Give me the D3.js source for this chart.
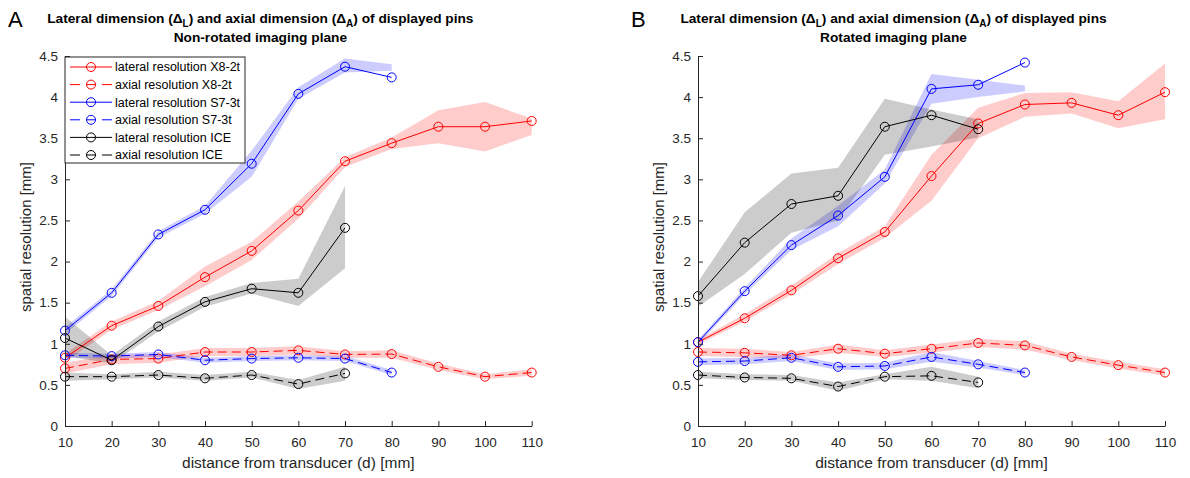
<!DOCTYPE html>
<html>
<head>
<meta charset="utf-8">
<script src="https://cdn.jsdelivr.net/npm/d3@7"></script>
<style>
body { margin:0; background:#fff; }
text { font-family: "Liberation Sans", Arial, sans-serif; }
</style>
</head>
<body>
<script>
// distances (mm)
var dist = [10,20,30,40,50,60,70,80,90,100,110];
var xTicks = [10,20,30,40,50,60,70,80,90,100,110];
var yTicks = [0,0.5,1,1.5,2,2.5,3,3.5,4,4.5];

var legendNames = ["lateral resolution X8-2t","axial resolution X8-2t","lateral resolution S7-3t",
                   "axial resolution S7-3t","lateral resolution ICE","axial resolution ICE"];

// ---- panel A : non-rotated imaging plane ----
var A_latX8    = [0.83,1.22,1.46,1.81,2.13,2.62,3.22,3.44,3.64,3.64,3.71];
var A_latX8_lo = [0.78,1.17,1.41,1.70,2.02,2.52,3.15,3.37,3.44,3.34,3.54];
var A_latX8_hi = [0.88,1.27,1.52,1.94,2.24,2.73,3.27,3.51,3.84,3.94,3.74];
var A_axX8     = [0.70,0.81,0.82,0.90,0.90,0.92,0.87,0.875,0.72,0.60,0.65];
var A_axX8_lo  = [0.64,0.75,0.77,0.85,0.85,0.87,0.83,0.83,0.68,0.57,0.61];
var A_axX8_hi  = [0.77,0.87,0.87,0.95,0.95,0.97,0.91,0.92,0.76,0.63,0.69];
var A_latS7    = [1.16,1.62,2.33,2.63,3.19,4.04,4.37,4.24];
var A_latS7_lo = [1.12,1.58,2.29,2.58,3.03,3.98,4.30,4.32];
var A_latS7_hi = [1.20,1.66,2.37,2.68,3.35,4.12,4.47,4.40];
var A_axS7     = [0.86,0.85,0.87,0.80,0.82,0.83,0.82,0.65];
var A_axS7_lo  = [0.83,0.82,0.84,0.77,0.79,0.80,0.79,0.62];
var A_axS7_hi  = [0.89,0.88,0.90,0.83,0.85,0.86,0.85,0.68];
var A_latICE    = [1.07,0.80,1.21,1.51,1.67,1.62,2.41];
var A_latICE_lo = [0.85,0.76,1.15,1.45,1.61,1.46,1.92];
var A_latICE_hi = [1.33,0.86,1.27,1.57,1.74,1.79,2.92];
var A_axICE    = [0.60,0.60,0.62,0.58,0.62,0.51,0.64];
var A_axICE_lo = [0.55,0.57,0.59,0.55,0.59,0.45,0.55];
var A_axICE_hi = [0.65,0.63,0.66,0.62,0.66,0.56,0.72];

// ---- panel B : rotated imaging plane ----
var B_latX8    = [1.02,1.31,1.65,2.04,2.36,3.04,3.68,3.91,3.93,3.78,4.06];
var B_latX8_lo = [0.99,1.27,1.60,1.97,2.29,2.74,3.50,3.76,3.80,3.62,3.73];
var B_latX8_hi = [1.05,1.36,1.71,2.10,2.43,3.30,3.87,4.05,4.06,3.95,4.41];
var B_axX8     = [0.90,0.89,0.86,0.94,0.88,0.94,1.01,0.98,0.84,0.74,0.65];
var B_axX8_lo  = [0.85,0.84,0.82,0.89,0.84,0.89,0.96,0.93,0.80,0.70,0.61];
var B_axX8_hi  = [0.95,0.94,0.90,0.99,0.92,0.99,1.06,1.03,0.88,0.78,0.69];
var B_latS7    = [1.02,1.64,2.20,2.56,3.03,4.10,4.15,4.42];
var B_latS7_lo = [0.99,1.60,2.14,2.43,2.95,3.92,4.00,4.07];
var B_latS7_hi = [1.05,1.68,2.28,2.68,3.12,4.28,4.21,4.14];
var B_axS7     = [0.78,0.79,0.83,0.72,0.73,0.84,0.75,0.65];
var B_axS7_lo  = [0.74,0.75,0.79,0.68,0.69,0.78,0.71,0.62];
var B_axS7_hi  = [0.82,0.83,0.87,0.76,0.77,0.90,0.79,0.68];
var B_latICE    = [1.58,2.23,2.70,2.80,3.64,3.78,3.61];
var B_latICE_lo = [1.45,1.85,2.35,2.50,3.30,3.40,3.51];
var B_latICE_hi = [1.75,2.60,3.07,3.14,3.98,3.85,3.73];
var B_axICE    = [0.62,0.59,0.58,0.48,0.60,0.61,0.53];
var B_axICE_lo = [0.58,0.56,0.55,0.43,0.57,0.55,0.46];
var B_axICE_hi = [0.66,0.63,0.62,0.53,0.63,0.72,0.60];

var colors = ["#ff0000","#ff0000","#0000ff","#0000ff","#000000","#000000"];
var dashed = [false,true,false,true,false,true];

var svg = d3.select("body").append("svg")
            .attr("width",1190)
            .attr("height",478);

function makeSeries(vals){
	// vals: [[mean,lo,hi], ...] in legend order
	return vals.map(function(v,i){
		return {
			name: legendNames[i],
			color: colors[i],
			dash: dashed[i],
			pts: v[0].map(function(m,j){ return {x: dist[j], y: m, lo: v[1][j], hi: v[2][j]}; })
		};
	});
}

var seriesA = makeSeries([[A_latX8,A_latX8_lo,A_latX8_hi],[A_axX8,A_axX8_lo,A_axX8_hi],
                          [A_latS7,A_latS7_lo,A_latS7_hi],[A_axS7,A_axS7_lo,A_axS7_hi],
                          [A_latICE,A_latICE_lo,A_latICE_hi],[A_axICE,A_axICE_lo,A_axICE_hi]]);
var seriesB = makeSeries([[B_latX8,B_latX8_lo,B_latX8_hi],[B_axX8,B_axX8_lo,B_axX8_hi],
                          [B_latS7,B_latS7_lo,B_latS7_hi],[B_axS7,B_axS7_lo,B_axS7_hi],
                          [B_latICE,B_latICE_lo,B_latICE_hi],[B_axICE,B_axICE_lo,B_axICE_hi]]);

drawPanel(seriesA, {x0:65, x1:531.7, y0:426, y1:56, letter:"A", letterX:8,
                    sub:"Non-rotated imaging plane", legend:true});
drawPanel(seriesB, {x0:698, x1:1165, y0:426, y1:56, letter:"B", letterX:631,
                    sub:"Rotated imaging plane", legend:false});

function drawPanel(series, o){
	var axisCol = "#262626";
	var x = d3.scaleLinear().domain([10,110]).range([o.x0,o.x1]);
	var y = d3.scaleLinear().domain([0,4.5]).range([o.y0,o.y1]);
	var g = svg.append("g");

	// shaded bands
	var area = d3.area()
	             .x(function(d){ return x(d.x); })
	             .y0(function(d){ return y(d.lo); })
	             .y1(function(d){ return y(d.hi); });
	g.selectAll(".band")
	 .data(series).enter()
	 .append("path")
	 .attr("class","band")
	 .attr("d", function(d){ return area(d.pts); })
	 .attr("fill", function(d){ return d.color; })
	 .attr("fill-opacity", 0.2)
	 .attr("stroke","none");

	// lines
	var line = d3.line()
	             .x(function(d){ return x(d.x); })
	             .y(function(d){ return y(d.y); });
	var sg = g.selectAll(".series")
	          .data(series).enter()
	          .append("g")
	          .attr("class","series");
	sg.append("path")
	  .attr("d", function(d){ return line(d.pts); })
	  .attr("fill","none")
	  .attr("stroke", function(d){ return d.color; })
	  .attr("stroke-width",1)
	  .attr("stroke-dasharray", function(d){ return d.dash ? "9,5" : null; });
	sg.selectAll("circle")
	  .data(function(d){ return d.pts.map(function(p){ return {p:p, c:d.color}; }); })
	  .enter().append("circle")
	  .attr("cx", function(d){ return x(d.p.x); })
	  .attr("cy", function(d){ return y(d.p.y); })
	  .attr("r",4.5)
	  .attr("fill","none")
	  .attr("stroke", function(d){ return d.c; })
	  .attr("stroke-width",1);

	// axes (ticks pointing inward, box off)
	var xAxis = d3.axisTop(x).tickValues(xTicks).tickSize(5).tickSizeOuter(0).tickFormat(d3.format("d"));
	var yAxis = d3.axisRight(y).tickValues(yTicks).tickSize(5).tickSizeOuter(0).tickFormat(function(d){ return d; });
	var gx = g.append("g").attr("transform","translate(0,"+o.y0+")").call(xAxis);
	var gy = g.append("g").attr("transform","translate("+o.x0+",0)").call(yAxis);
	[gx,gy].forEach(function(a){
		a.select(".domain").attr("stroke",axisCol);
		a.selectAll(".tick line").attr("stroke",axisCol);
		a.selectAll(".tick text").attr("fill",axisCol).style("font-size","13.5px")
		 .style("font-family","'Liberation Sans', Arial, sans-serif");
	});
	gx.selectAll(".tick text").attr("y", 11).attr("dy","0.71em");
	gy.selectAll(".tick text").attr("x",-7).attr("text-anchor","end");

	// axis labels
	g.append("text")
	 .attr("x",(o.x0+o.x1)/2).attr("y",468)
	 .attr("text-anchor","middle").attr("fill",axisCol)
	 .style("font-size","15.5px")
	 .text("distance from transducer (d) [mm]");
	g.append("text")
	 .attr("transform","translate("+(o.x0-34)+",237) rotate(-90)")
	 .attr("text-anchor","middle").attr("fill",axisCol)
	 .style("font-size","15px")
	 .text("spatial resolution [mm]");

	// titles
	var tc = (o.x0+o.x1)/2 - 38;
	var t = g.append("text")
	         .attr("x",tc).attr("y",23)
	         .attr("text-anchor","middle")
	         .style("font-size","13.7px").style("font-weight","bold");
	t.append("tspan").text("Lateral dimension (\u0394");
	t.append("tspan").attr("dy",4).style("font-size","10px").text("L");
	t.append("tspan").attr("dy",-4).text(") and axial dimension (\u0394");
	t.append("tspan").attr("dy",4).style("font-size","10px").text("A");
	t.append("tspan").attr("dy",-4).text(") of displayed pins");
	g.append("text")
	 .attr("x",tc).attr("y",42)
	 .attr("text-anchor","middle")
	 .style("font-size","13.7px").style("font-weight","bold")
	 .text(o.sub);
	g.append("text")
	 .attr("x",o.letterX).attr("y",27)
	 .style("font-size","22px")
	 .text(o.letter);

	if (o.legend) drawLegend(g, series, o);
}

function drawLegend(g, series, o){
	var lx = o.x0, ly = 57, lw = 180, lh = 106;
	var lg = g.append("g").attr("class","legend");
	lg.append("rect")
	  .attr("x",lx).attr("y",ly).attr("width",lw).attr("height",lh)
	  .attr("fill","#fff").attr("stroke","#262626").attr("stroke-width",1);
	var items = lg.selectAll(".item")
	              .data(series).enter()
	              .append("g")
	              .attr("transform", function(d,i){ return "translate("+lx+","+(ly+10+i*17.6)+")"; });
	items.append("line")
	     .attr("x1",5).attr("x2",47).attr("y1",0).attr("y2",0)
	     .attr("stroke", function(d){ return d.color; })
	     .attr("stroke-dasharray", function(d){ return d.dash ? "10,6" : null; });
	items.append("circle")
	     .attr("cx",26).attr("cy",0).attr("r",4.5)
	     .attr("fill","none")
	     .attr("stroke", function(d){ return d.color; });
	items.append("text")
	     .attr("x",50).attr("y",0).attr("dy","0.35em")
	     .attr("fill","#000")
	     .style("font-size","12.5px")
	     .text(function(d){ return d.name; });
}
</script>
</body>
</html>
